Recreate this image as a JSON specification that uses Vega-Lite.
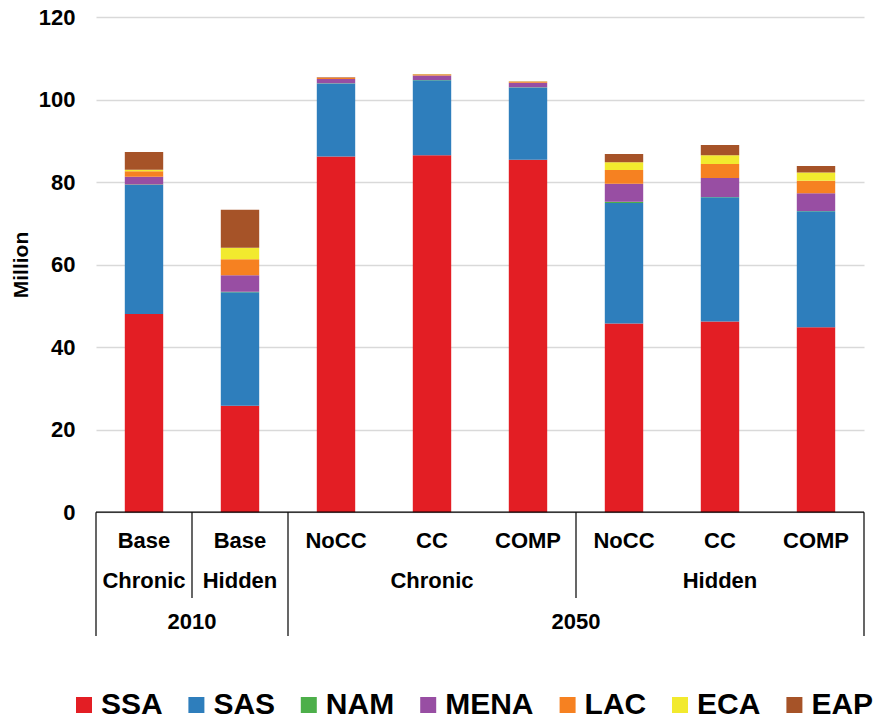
{
  "$schema": "https://vega.github.io/schema/vega-lite/v6.json",
  "width": 768,
  "height": 619,
  "autosize": {"type": "none"},
  "padding": {"left": 96, "top": 17, "right": 13, "bottom": 85},
  "config": {
    "view": {"stroke": null},
    "font": "Liberation Sans",
    "text": {"font": "Liberation Sans"}
  },
  "datasets": {
    "bars": [
      {"cat": "c1", "region": "SSA", "k": 1, "value": 48.0},
      {"cat": "c1", "region": "SAS", "k": 2, "value": 31.3},
      {"cat": "c1", "region": "NAM", "k": 3, "value": 0.1},
      {"cat": "c1", "region": "MENA", "k": 4, "value": 1.9},
      {"cat": "c1", "region": "LAC", "k": 5, "value": 1.3},
      {"cat": "c1", "region": "ECA", "k": 6, "value": 0.4},
      {"cat": "c1", "region": "EAP", "k": 7, "value": 4.3},
      {"cat": "c2", "region": "SSA", "k": 1, "value": 25.8},
      {"cat": "c2", "region": "SAS", "k": 2, "value": 27.5},
      {"cat": "c2", "region": "NAM", "k": 3, "value": 0.1},
      {"cat": "c2", "region": "MENA", "k": 4, "value": 4.0},
      {"cat": "c2", "region": "LAC", "k": 5, "value": 3.9},
      {"cat": "c2", "region": "ECA", "k": 6, "value": 2.8},
      {"cat": "c2", "region": "EAP", "k": 7, "value": 9.2},
      {"cat": "c3", "region": "SSA", "k": 1, "value": 86.2},
      {"cat": "c3", "region": "SAS", "k": 2, "value": 17.7},
      {"cat": "c3", "region": "NAM", "k": 3, "value": 0.05},
      {"cat": "c3", "region": "MENA", "k": 4, "value": 1.0},
      {"cat": "c3", "region": "LAC", "k": 5, "value": 0.3},
      {"cat": "c3", "region": "ECA", "k": 6, "value": 0.05},
      {"cat": "c3", "region": "EAP", "k": 7, "value": 0.1},
      {"cat": "c4", "region": "SSA", "k": 1, "value": 86.5},
      {"cat": "c4", "region": "SAS", "k": 2, "value": 18.2},
      {"cat": "c4", "region": "NAM", "k": 3, "value": 0.05},
      {"cat": "c4", "region": "MENA", "k": 4, "value": 1.1},
      {"cat": "c4", "region": "LAC", "k": 5, "value": 0.2},
      {"cat": "c4", "region": "ECA", "k": 6, "value": 0.05},
      {"cat": "c4", "region": "EAP", "k": 7, "value": 0.1},
      {"cat": "c5", "region": "SSA", "k": 1, "value": 85.4},
      {"cat": "c5", "region": "SAS", "k": 2, "value": 17.5},
      {"cat": "c5", "region": "NAM", "k": 3, "value": 0.05},
      {"cat": "c5", "region": "MENA", "k": 4, "value": 1.1},
      {"cat": "c5", "region": "LAC", "k": 5, "value": 0.25},
      {"cat": "c5", "region": "ECA", "k": 6, "value": 0.05},
      {"cat": "c5", "region": "EAP", "k": 7, "value": 0.1},
      {"cat": "c6", "region": "SSA", "k": 1, "value": 45.7},
      {"cat": "c6", "region": "SAS", "k": 2, "value": 29.2},
      {"cat": "c6", "region": "NAM", "k": 3, "value": 0.3},
      {"cat": "c6", "region": "MENA", "k": 4, "value": 4.4},
      {"cat": "c6", "region": "LAC", "k": 5, "value": 3.3},
      {"cat": "c6", "region": "ECA", "k": 6, "value": 1.9},
      {"cat": "c6", "region": "EAP", "k": 7, "value": 2.0},
      {"cat": "c7", "region": "SSA", "k": 1, "value": 46.2},
      {"cat": "c7", "region": "SAS", "k": 2, "value": 30.1},
      {"cat": "c7", "region": "NAM", "k": 3, "value": 0.1},
      {"cat": "c7", "region": "MENA", "k": 4, "value": 4.6},
      {"cat": "c7", "region": "LAC", "k": 5, "value": 3.4},
      {"cat": "c7", "region": "ECA", "k": 6, "value": 2.1},
      {"cat": "c7", "region": "EAP", "k": 7, "value": 2.5},
      {"cat": "c8", "region": "SSA", "k": 1, "value": 44.8},
      {"cat": "c8", "region": "SAS", "k": 2, "value": 28.1},
      {"cat": "c8", "region": "NAM", "k": 3, "value": 0.1},
      {"cat": "c8", "region": "MENA", "k": 4, "value": 4.3},
      {"cat": "c8", "region": "LAC", "k": 5, "value": 3.0},
      {"cat": "c8", "region": "ECA", "k": 6, "value": 2.0},
      {"cat": "c8", "region": "EAP", "k": 7, "value": 1.6}
    ],
    "row1": [
      {"cat": "c1", "label": "Base"},
      {"cat": "c2", "label": "Base"},
      {"cat": "c3", "label": "NoCC"},
      {"cat": "c4", "label": "CC"},
      {"cat": "c5", "label": "COMP"},
      {"cat": "c6", "label": "NoCC"},
      {"cat": "c7", "label": "CC"},
      {"cat": "c8", "label": "COMP"}
    ],
    "row2": [
      {"cat": "c1", "label": "Chronic"},
      {"cat": "c2", "label": "Hidden"},
      {"cat": "c4", "label": "Chronic"},
      {"cat": "c7", "label": "Hidden"}
    ],
    "row3": [
      {"cat": "c1", "label": "2010"},
      {"cat": "c5", "label": "2050"}
    ],
    "longdiv": [{"cat": "c1"}, {"cat": "c3"}],
    "shortdiv": [{"cat": "c2"}, {"cat": "c6"}],
    "enddiv": [{"cat": "c8"}]
  },
  "layer": [
    {
      "data": {"name": "bars"},
      "mark": {"type": "bar", "width": {"band": 0.4}},
      "encoding": {
        "x": {
          "field": "cat", "type": "nominal",
          "scale": {"domain": ["c1","c2","c3","c4","c5","c6","c7","c8"], "paddingInner": 0, "paddingOuter": 0},
          "axis": null
        },
        "y": {
          "field": "value", "type": "quantitative", "stack": "zero",
          "scale": {"domain": [-30, 120], "nice": false, "zero": false},
          "axis": {
            "values": [0, 20, 40, 60, 80, 100, 120],
            "title": "Million",
            "titleFontSize": 21,
            "titleFontWeight": "bold",
            "titleColor": "black",
            "titleX": -75,
            "titleY": 247.5,
            "titleAngle": 270,
            "titleAlign": "center",
            "titleBaseline": "middle",
            "labelFontSize": 22,
            "labelFontWeight": "bold",
            "labelColor": "black",
            "labelPadding": 21,
            "ticks": false,
            "domain": false,
            "grid": true,
            "gridColor": "#d9d9d9",
            "gridWidth": 1.5
          }
        },
        "color": {
          "field": "region", "type": "nominal",
          "scale": {
            "domain": ["SSA", "SAS", "NAM", "MENA", "LAC", "ECA", "EAP"],
            "range": ["#e31e24", "#2e7ebc", "#4daf4a", "#984ea3", "#f68121", "#f2ea2e", "#a65328"]
          },
          "legend": {
            "orient": "none",
            "legendX": -27,
            "legendY": 673,
            "direction": "horizontal",
            "title": null,
            "symbolType": "square",
            "symbolSize": 256,
            "symbolStrokeWidth": 0,
            "symbolOpacity": 1,
            "labelFontSize": 30,
            "labelFontWeight": "bold",
            "labelColor": "black",
            "labelOffset": 2,
            "columnPadding": 18.4,
            "labelLimit": 200
          }
        },
        "order": {"field": "k", "type": "quantitative", "sort": "ascending"}
      }
    },
    {
      "data": {"values": [{"z": 0}]},
      "mark": {"type": "rule", "color": "black", "strokeWidth": 1.2},
      "encoding": {"y": {"field": "z", "type": "quantitative"}}
    },
    {
      "data": {"name": "longdiv"},
      "mark": {"type": "rule", "color": "black", "strokeWidth": 1.2},
      "encoding": {
        "x": {"field": "cat", "type": "nominal", "bandPosition": 0},
        "y": {"datum": 0, "type": "quantitative"},
        "y2": {"datum": -30}
      }
    },
    {
      "data": {"name": "enddiv"},
      "mark": {"type": "rule", "color": "black", "strokeWidth": 1.2},
      "encoding": {
        "x": {"field": "cat", "type": "nominal", "bandPosition": 1},
        "y": {"datum": 0, "type": "quantitative"},
        "y2": {"datum": -30}
      }
    },
    {
      "data": {"name": "shortdiv"},
      "mark": {"type": "rule", "color": "black", "strokeWidth": 1.2},
      "encoding": {
        "x": {"field": "cat", "type": "nominal", "bandPosition": 0},
        "y": {"datum": 0, "type": "quantitative"},
        "y2": {"datum": -20.8}
      }
    },
    {
      "data": {"name": "row1"},
      "mark": {"type": "text", "fontSize": 22, "fontWeight": "bold", "color": "black", "baseline": "middle", "align": "center"},
      "encoding": {
        "x": {"field": "cat", "type": "nominal", "bandPosition": 0.5},
        "y": {"datum": -7.0, "type": "quantitative"},
        "text": {"field": "label"}
      }
    },
    {
      "data": {"name": "row2"},
      "mark": {"type": "text", "fontSize": 22, "fontWeight": "bold", "color": "black", "baseline": "middle", "align": "center"},
      "encoding": {
        "x": {"field": "cat", "type": "nominal", "bandPosition": 0.5},
        "y": {"datum": -16.7, "type": "quantitative"},
        "text": {"field": "label"}
      }
    },
    {
      "data": {"name": "row3"},
      "mark": {"type": "text", "fontSize": 22, "fontWeight": "bold", "color": "black", "baseline": "middle", "align": "center"},
      "encoding": {
        "x": {"field": "cat", "type": "nominal", "bandPosition": 1},
        "y": {"datum": -26.7, "type": "quantitative"},
        "text": {"field": "label"}
      }
    }
  ]
}
